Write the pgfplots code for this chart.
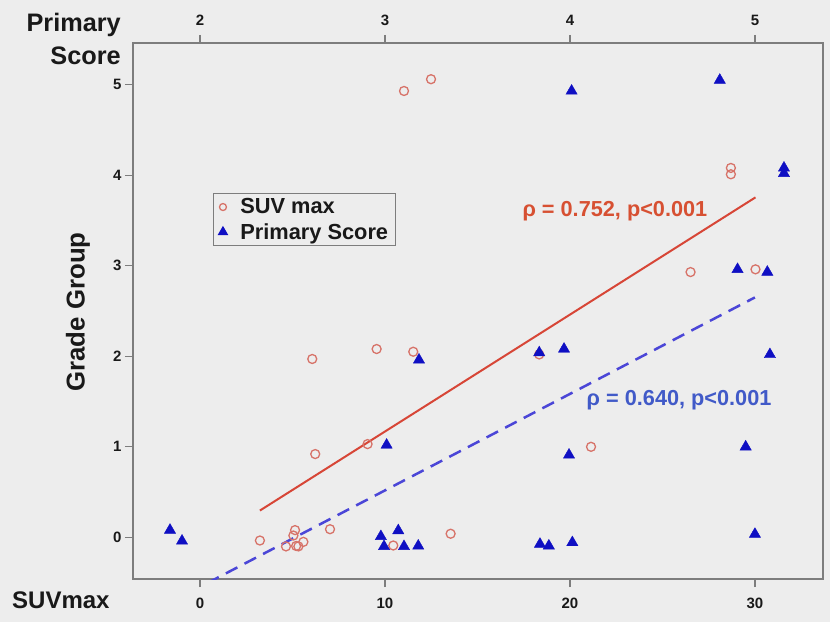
\documentclass[border=0pt]{standalone}
\usepackage{fontspec}
\setmainfont{Liberation Sans}
\usepackage{pgfplots}
\pgfplotsset{compat=1.18}
\definecolor{bg}{RGB}{237,237,237}
\definecolor{axisgray}{RGB}{125,125,125}
\definecolor{txt}{RGB}{25,25,25}
\definecolor{circ}{RGB}{215,115,105}
\definecolor{tri}{RGB}{15,15,195}
\definecolor{redline}{RGB}{215,70,55}
\definecolor{redtext}{RGB}{215,80,50}
\definecolor{blueline}{RGB}{75,70,215}
\definecolor{bluetext}{RGB}{65,90,200}
\pgfplotstableread{
x y
3.24 -0.035
4.65 -0.10
5.05 0.02
5.14 0.08
5.32 -0.10
5.20 -0.095
5.59 -0.05
7.03 0.09
10.45 -0.09
13.55 0.04
6.23 0.92
9.06 1.03
21.14 1.00
6.07 1.97
9.55 2.08
11.53 2.05
18.34 2.02
26.52 2.93
30.03 2.96
28.70 4.08
28.70 4.01
11.03 4.93
12.49 5.06
}\suvtable
\pgfplotstableread{
x y
-1.62 0.08
-0.97 -0.04
9.78 0.01
10.72 0.075
9.95 -0.10
11.03 -0.10
11.80 -0.095
18.38 -0.075
18.86 -0.094
20.13 -0.057
30.00 0.035
10.09 1.02
19.95 0.91
29.50 1.00
11.84 1.96
18.34 2.04
19.68 2.08
30.81 2.02
29.06 2.96
30.67 2.93
31.57 4.08
31.57 4.02
20.09 4.93
28.10 5.05
}\primtable
\begin{document}
\begin{tikzpicture}[x=1pt,y=1pt]
\fill[bg] (-133,-43) rectangle (697,579);
\useasboundingbox (-133,-43) rectangle (697,579);
\begin{axis}[at={(0,0)}, anchor=south west, scale only axis,
  width=690pt, height=536pt,
  xmin=-3.62, xmax=33.68, ymin=-0.46, ymax=5.46,
  axis line style={draw=axisgray, line width=1.5pt},
  xtick={0,10,20,30}, ytick={0,1,2,3,4,5},
  xtick pos=left, ytick pos=left,
  tick align=outside, major tick length=8pt,
  tick style={draw=axisgray, line width=1.2pt},
  ticklabel style={font=\fontsize{15}{18}\selectfont\bfseries, text=txt},
  xticklabel style={yshift=-7pt},
  /pgf/number format/assume math mode=true,
  legend cell align=left,
  legend style={at={(0.116,0.72)}, anchor=north west, draw=axisgray, fill=bg,
    line width=1.2pt, font=\fontsize{21.8}{25}\selectfont\bfseries, text=txt,
    inner xsep=5pt, inner ysep=3pt, row sep=4pt},
]
\addplot[only marks, mark=o, mark size=4.5pt, mark options={draw=circ, line width=1.3pt},
  legend image post style={mark size=3.5pt}] table[x=x,y=y] {\suvtable};
\addlegendentry{\hspace{11pt}SUV max}
\addplot[only marks, mark=triangle*, mark size=6.5pt, color=tri,
  legend image post style={mark size=5pt}] table[x=x,y=y] {\primtable};
\addlegendentry{\hspace{11pt}Primary Score}
\addplot[forget plot, redline, line width=2pt] coordinates {(3.24,0.296) (30.03,3.755)};
\addplot[forget plot, blueline, line width=2.5pt, dash pattern=on 13pt off 8pt] coordinates {(-1.62,-0.72) (30.0,2.65)};
\node[text=redtext, font=\fontsize{21.7}{25}\selectfont\bfseries] at (axis cs:22.43,3.60) {ρ = 0.752, p<0.001};
\node[text=bluetext, font=\fontsize{21.7}{25}\selectfont\bfseries] at (axis cs:25.9,1.52) {ρ = 0.640, p<0.001};
\end{axis}
\begin{axis}[at={(0,0)}, anchor=south west, scale only axis,
  width=690pt, height=536pt,
  xmin=-3.62, xmax=33.68, ymin=-0.46, ymax=5.46,
  axis line style={draw=none}, hide y axis,
  xtick={0,10,20,30}, xticklabels={2,3,4,5},
  xtick pos=right, xticklabel pos=right,
  tick align=outside, major tick length=8pt,
  tick style={draw=axisgray, line width=1.2pt},
  ticklabel style={font=\fontsize{15}{18}\selectfont\bfseries, text=txt},
  xticklabel style={yshift=6pt},
]
\addplot[draw=none] coordinates {(0,0)};
\end{axis}
\node[anchor=base east, inner sep=0pt, text=txt, font=\fontsize{25.3}{28}\selectfont\bfseries] at (-12,547) {Primary};
\node[anchor=base east, inner sep=0pt, text=txt, font=\fontsize{25.3}{28}\selectfont\bfseries] at (-12,514) {Score};
\node[rotate=90, inner sep=0pt, text=txt, font=\fontsize{25.8}{28}\selectfont\bfseries] at (-55,267) {Grade Group};
\node[anchor=west, inner sep=0pt, text=txt, font=\fontsize{24}{28}\selectfont\bfseries] at (-121,-21) {SUVmax};
\end{tikzpicture}
\end{document}
